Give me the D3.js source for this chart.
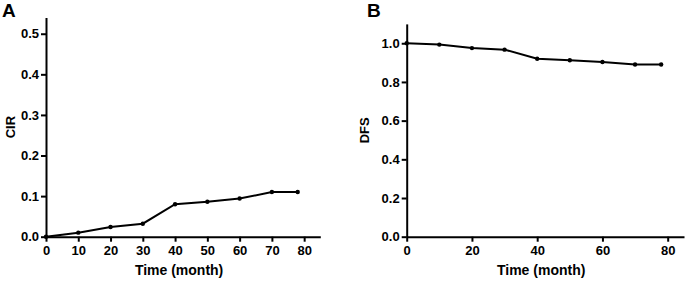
<!DOCTYPE html>
<html>
<head>
<meta charset="utf-8">
<script src="https://cdn.jsdelivr.net/npm/d3@7"></script>
<style>
  body { margin: 0; background: #fff; }
  svg { display: block; font-family: "Liberation Sans", Arial, sans-serif; }
  .axis path, .axis line { stroke: #000; stroke-width: 2; }
  .axis text { font-size: 13px; font-weight: bold; fill: #000; }
</style>
</head>
<body>
<div id="chart"></div>
<script>
// follow-up time points (months)
var months = [0, 10, 20, 30, 40, 50, 60, 70, 78];
// cumulative incidence of recurrence
var cir = [0, 0.01, 0.024, 0.032, 0.08, 0.086, 0.094, 0.11, 0.11];
// disease-free survival
var dfs = [1.0, 0.993, 0.975, 0.967, 0.92, 0.912, 0.903, 0.89, 0.89];

var ticksA_x = [0, 10, 20, 30, 40, 50, 60, 70, 80];
var ticksA_y = [0, 0.1, 0.2, 0.3, 0.4, 0.5];
var ticksB_x = [0, 20, 40, 60, 80];
var ticksB_y = [0, 0.2, 0.4, 0.6, 0.8, 1.0];

var W = 685, H = 282;

var svg = d3.select("#chart").append("svg")
    .attr("width", W)
    .attr("height", H);

function panel(opts) {
  var x = d3.scaleLinear().domain([0, 85]).range(opts.xr);
  var y = d3.scaleLinear().domain(opts.yd).range(opts.yr);

  svg.append("g")
      .attr("class", "axis")
      .attr("transform", "translate(0," + opts.yr[0] + ")")
      .call(d3.axisBottom(x).tickValues(opts.xt).tickSize(5).tickSizeOuter(0).tickPadding(4));

  svg.append("g")
      .attr("class", "axis")
      .attr("transform", "translate(" + opts.xr[0] + ",0)")
      .call(d3.axisLeft(y).tickValues(opts.yt).tickFormat(d3.format(".1f"))
        .tickSize(5).tickSizeOuter(0).tickPadding(2));

  var line = d3.line()
      .x(function(d, i) { return x(months[i]); })
      .y(function(d) { return y(d); });

  svg.append("path")
      .datum(opts.data)
      .attr("fill", "none")
      .attr("stroke", "#000")
      .attr("stroke-width", 2)
      .attr("d", line);

  svg.selectAll("circle." + opts.name).data(opts.data).enter()
    .append("circle")
      .attr("class", opts.name)
      .attr("cx", function(d, i) { return x(months[i]); })
      .attr("cy", function(d) { return y(d); })
      .attr("r", 2.2)
      .attr("fill", "#000");

  svg.append("text")
      .attr("x", (opts.xr[0] + x(80)) / 2 + 4)
      .attr("y", 275)
      .attr("text-anchor", "middle")
      .style("font-size", "14px")
      .style("font-weight", "bold")
      .text("Time (month)");

  var cy = (opts.yr[0] + opts.yr[1]) / 2;
  svg.append("text")
      .attr("transform", "translate(" + opts.ylx + "," + cy + ") rotate(-90)")
      .attr("text-anchor", "middle")
      .style("font-size", "13px")
      .style("font-weight", "bold")
      .text(opts.ylab);

  svg.append("text")
      .attr("x", opts.lx)
      .attr("y", 17)
      .style("font-size", "19px")
      .style("font-weight", "bold")
      .text(opts.name);
}

panel({
  name: "A", data: cir, ylab: "CIR",
  xr: [46, 320.3], yd: [0, 0.54], yr: [236.7, 17.5],
  xt: ticksA_x, yt: ticksA_y, ylx: 15, lx: 2
});

panel({
  name: "B", data: dfs, ylab: "DFS",
  xr: [406.7, 684], yd: [0, 1.1], yr: [236.7, 23.9],
  xt: ticksB_x, yt: ticksB_y, ylx: 369, lx: 367
});
</script>
</body>
</html>
